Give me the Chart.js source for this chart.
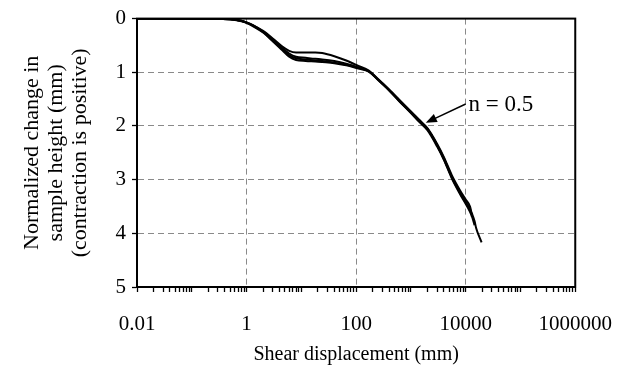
<!DOCTYPE html>
<html>
<head>
<meta charset="utf-8">
<script src="https://cdn.jsdelivr.net/npm/chart.js@4.4.1/dist/chart.umd.min.js"></script>
<style>
  html, body { margin: 0; padding: 0; background: #fff; }
</style>
</head>
<body>
<canvas id="graph" width="632" height="377"></canvas>
<script>
// shear displacement (mm), shared by all runs
const shearDisp = [0.01, 0.5, 0.8, 1, 1.3, 2, 3, 4.5, 6, 8,
  12, 18, 24, 40, 66, 110, 170,
  260, 400, 600, 1000, 1400, 2000, 3000, 4000, 5600, 8000,
  10000, 12000, 12500, 13000, 14500, 15500, 19500];

// normalized change in sample height (mm), one array per test
const heightRun1 = [0, 0.01, 0.04, 0.07, 0.12, 0.23, 0.37, 0.52, 0.6, 0.63,
  0.63, 0.63, 0.64, 0.7, 0.78, 0.88, 0.97,
  1.15, 1.33, 1.52, 1.75, 1.9, 2.06, 2.35, 2.6, 2.95, 3.24,
  3.41, 3.55, 3.59, 3.63, 3.77, 3.9, 4.17];
const heightRun2 = [0, 0.01, 0.04, 0.07, 0.12, 0.24, 0.39, 0.55, 0.65, 0.71,
  0.73, 0.75, 0.76, 0.79, 0.84, 0.91, 0.98,
  1.16, 1.34, 1.53, 1.76, 1.92, 2.08, 2.38, 2.63, 2.98, 3.28,
  3.45, 3.6, 3.64, 3.68, 3.85, null, null];
const heightRun3 = [0, 0.01, 0.04, 0.08, 0.13, 0.25, 0.41, 0.57, 0.68, 0.74,
  0.76, 0.78, 0.79, 0.82, 0.86, 0.92, 0.98,
  1.14, 1.32, 1.5, 1.73, 1.88, 2.04, 2.33, 2.58, 2.92, 3.21,
  3.37, 3.5, 3.58, 3.7, null, null, null];
const heightRun4 = [0, 0.01, 0.05, 0.08, 0.14, 0.26, 0.42, 0.59, 0.71, 0.77,
  0.79, 0.8, 0.81, 0.83, 0.87, 0.93, 0.99,
  1.15, 1.33, 1.52, 1.74, 1.9, 2.05, 2.36, 2.62, 2.96, 3.26,
  3.43, 3.57, 3.62, null, null, null, null];

const xTickLabels = ['0.01', '1', '100', '10000', '1000000'];
const xGridAt = [1, 100, 10000];
const yGridAt = [1, 2, 3, 4];

// label "n = 0.5" with its arrow, in data units
const noteText = 'n = 0.5';
const noteTip = { x: 1870, y: 1.94 };
const noteTail = { x: 10000, y: 1.59 };
const noteAt = { x: 11300, y: 1.6 };

const serif = "'Liberation Serif', 'Times New Roman', serif";

// every 1..9 x 10^k tick between 0.01 and 1e6
const logTicks = [];
for (let e = -2; e < 6; e++) {
  for (let k = 1; k <= 9; k++) logTicks.push(Number((k * Math.pow(10, e)).toPrecision(2)));
}
logTicks.push(1000000);

const sameLog = (a, b) => Math.abs(Math.log10(a) - Math.log10(b)) < 1e-6;

function run(heights) {
  const pts = [];
  shearDisp.forEach((x, i) => { if (heights[i] !== null) pts.push({ x: x, y: heights[i] }); });
  return {
    data: pts,
    borderColor: '#000',
    borderWidth: 2,
    pointRadius: 0,
    fill: false,
    cubicInterpolationMode: 'monotone'
  };
}

const framePlugin = {
  id: 'frame',
  afterDraw(chart) {
    const { ctx, chartArea: a, scales } = chart;
    ctx.save();
    ctx.strokeStyle = '#000';
    ctx.lineWidth = 2;
    ctx.strokeRect(a.left, a.top, a.right - a.left, a.bottom - a.top);

    // arrow for the n = 0.5 label
    const x1 = scales.x.getPixelForValue(noteTail.x), y1 = scales.y.getPixelForValue(noteTail.y);
    const x2 = scales.x.getPixelForValue(noteTip.x), y2 = scales.y.getPixelForValue(noteTip.y);
    const ang = Math.atan2(y2 - y1, x2 - x1);
    ctx.lineWidth = 1.5;
    ctx.beginPath();
    ctx.moveTo(x1, y1);
    ctx.lineTo(x2 - 8 * Math.cos(ang), y2 - 8 * Math.sin(ang));
    ctx.stroke();
    ctx.beginPath();
    ctx.moveTo(x2, y2);
    ctx.lineTo(x2 - 11 * Math.cos(ang) + 4.5 * Math.sin(ang), y2 - 11 * Math.sin(ang) - 4.5 * Math.cos(ang));
    ctx.lineTo(x2 - 11 * Math.cos(ang) - 4.5 * Math.sin(ang), y2 - 11 * Math.sin(ang) + 4.5 * Math.cos(ang));
    ctx.closePath();
    ctx.fillStyle = '#000';
    ctx.fill();

    ctx.font = '23px ' + serif;
    ctx.textAlign = 'left';
    ctx.textBaseline = 'middle';
    ctx.fillText(noteText, scales.x.getPixelForValue(noteAt.x), scales.y.getPixelForValue(noteAt.y));
    ctx.restore();
  }
};

const ctx = document.getElementById('graph');

const config = {
  type: 'line',
  data: {
    datasets: [run(heightRun1), run(heightRun2), run(heightRun3), run(heightRun4)]
  },
  options: {
    responsive: false,
    animation: false,
    layout: { padding: { top: 18, right: 55, left: 0, bottom: 0 } },
    plugins: { legend: { display: false }, tooltip: { enabled: false } },
    scales: {
      x: {
        type: 'logarithmic',
        min: 0.01,
        max: 1000000,
        afterBuildTicks: (scale) => { scale.ticks = logTicks.map(v => ({ value: v })); },
        afterFit: (scale) => { scale.height = 90; },
        ticks: {
          autoSkip: false,
          maxRotation: 0,
          padding: 20,
          color: '#000',
          font: { family: serif, size: 21 },
          callback: (value) => {
            const lbl = xTickLabels.find(l => sameLog(Number(l), value));
            return lbl === undefined ? '' : lbl;
          }
        },
        grid: {
          color: (c) => (c.tick && xGridAt.some(v => sameLog(v, c.tick.value))) ? '#8a8a8a' : 'rgba(0,0,0,0)',
          tickColor: '#000',
          tickLength: 5,
          lineWidth: 1,
          tickWidth: 1.3
        },
        border: { display: true, color: '#000', width: 2, dash: [6, 4] },
        title: {
          display: true,
          text: 'Shear displacement (mm)',
          color: '#000',
          font: { family: serif, size: 20 },
          padding: { top: 0, bottom: 10 }
        }
      },
      y: {
        type: 'linear',
        reverse: true,
        min: 0,
        max: 5,
        afterFit: (scale) => { scale.width = 137; },
        ticks: {
          stepSize: 1,
          padding: 6,
          color: '#000',
          font: { family: serif, size: 21 }
        },
        grid: {
          color: (c) => (c.tick && yGridAt.includes(c.tick.value)) ? '#8a8a8a' : 'rgba(0,0,0,0)',
          tickColor: '#000',
          tickLength: 5,
          lineWidth: 1,
          tickWidth: 1.3
        },
        border: { display: true, color: '#000', width: 2, dash: [6, 4] },
        title: {
          display: true,
          text: ['Normalized change in', 'sample height (mm)', '(contraction is positive)'],
          color: '#000',
          font: { family: serif, size: 22, lineHeight: 1.1 },
          padding: { top: 20, bottom: 0 }
        }
      }
    }
  },
  plugins: [framePlugin]
};

const myChart = new Chart(ctx, config);
</script>
</body>
</html>
